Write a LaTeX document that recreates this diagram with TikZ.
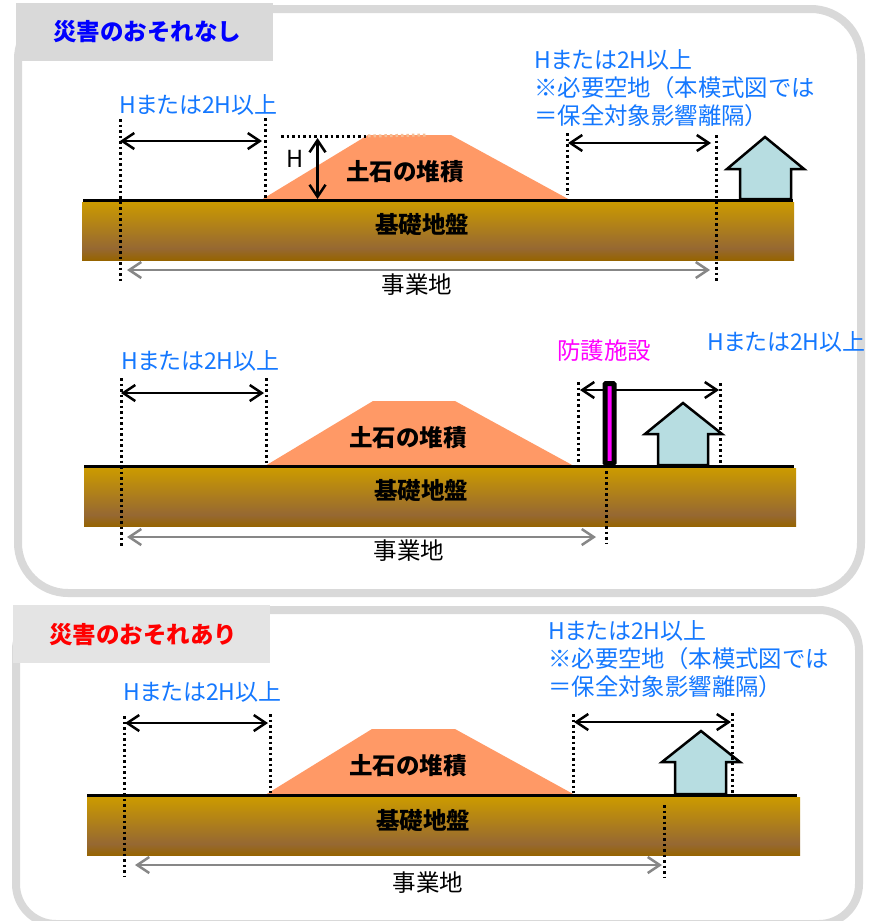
\documentclass[tikz,border=0pt]{standalone}
\usepackage{fontspec}
\setmainfont{Noto Sans CJK JP}
\newfontfamily\palt[RawFeature=+palt]{Noto Sans CJK JP}
\usetikzlibrary{arrows.meta}
\definecolor{groundtop}{RGB}{203,154,0}
\definecolor{groundmid}{RGB}{150,104,50}
\definecolor{groundend}{RGB}{150,100,0}
\pgfdeclareverticalshading{ground shade}{100bp}{color(0bp)=(groundend);color(25bp)=(groundend);color(35bp)=(groundmid);color(75bp)=(groundtop);color(100bp)=(groundtop)}
\newcommand{\hlabel}{{\palt\fontsize{23}{28}\selectfont Hまたは2H以上}}
\begin{document}
\begin{tikzpicture}[x=1pt,y=-1pt]
    \useasboundingbox (0, 0) rectangle (872, 921);
    % Node styles
    \tikzstyle{none}=[inner sep=0mm]
    \tikzstyle{frame}=[draw={rgb,255: red,217; green,217; blue,217}, line width=8pt, fill=white, shape=rectangle, inner sep=0mm]
    \tikzstyle{tab}=[shape=rectangle, inner sep=0mm, minimum width=257pt, minimum height=58pt]
    \tikzstyle{ground box}=[shading=ground shade, shape=rectangle, inner sep=0mm, minimum width=712pt, minimum height=58pt]
    \tikzstyle{title}=[inner sep=0mm, font=\bfseries\fontsize{23.5}{28}\selectfont]
    \tikzstyle{bold label}=[inner sep=0mm, font=\bfseries\fontsize{23.5}{28}\selectfont]
    \tikzstyle{plain label}=[inner sep=0mm, font=\fontsize{23.5}{28}\selectfont]
    \tikzstyle{blue label}=[inner sep=0mm, anchor=west, align=left, text={rgb,255: red,20; green,120; blue,255}, font=\fontsize{23.4}{28}\selectfont]
    % Edge styles
    \tikzstyle{arrow}=[{Straight Barb[length=12pt,width=16pt]}-{Straight Barb[length=12pt,width=16pt]}, line width=2.5pt, black]
    \tikzstyle{gray arrow}=[style=arrow, draw={rgb,255: red,135; green,135; blue,135}]
    \tikzstyle{dots}=[line width=3pt, dash pattern=on 2.5pt off 3pt]
    \tikzstyle{surface}=[line width=3pt]
    % Shape styles
    \tikzstyle{soil}=[fill={rgb,255: red,255; green,153; blue,102}]
    \tikzstyle{house}=[fill={rgb,255: red,183; green,221; blue,225}, draw=black, line width=2.5pt, miter limit=10]

    % frames and tabs
    \node [style=frame, rounded corners=50pt, minimum width=843pt, minimum height=584pt] (0) at (439.5, 301) {};
    \node [style=frame, rounded corners=40pt, minimum width=843pt, minimum height=314pt] (1) at (437.5, 767) {};
    \node [style=tab, fill={rgb,255: red,217; green,217; blue,217}] (2) at (144, 32) {};
    \node [style=tab, fill={rgb,255: red,228; green,228; blue,228}] (3) at (141.5, 634) {};
    \node [style=title, text={rgb,255: red,0; green,0; blue,255}] (4) at (147, 32) {災害のおそれなし};
    \node [style=title, text={rgb,255: red,255; green,0; blue,0}] (5) at (143, 635) {災害のおそれあり};

    % upper section
    \node [style=ground box] (10) at (438, 231) {};
    \fill [style=soil] (261, 200) -- (368, 135) -- (451, 135) -- (570, 200) -- cycle;
    \draw [style=house] (740, 199) -- (740, 169) -- (727, 169) -- (765, 137) -- (804, 169) -- (791, 169) -- (791, 199) -- cycle;
    \node [style=none] (11) at (83, 200.5) {};
    \node [style=none] (12) at (793, 200.5) {};
    \node [style=none] (13) at (120, 119) {};
    \node [style=none] (14) at (120, 281) {};
    \node [style=none] (15) at (265.5, 118) {};
    \node [style=none] (16) at (265.5, 198) {};
    \node [style=none] (17) at (567.5, 133) {};
    \node [style=none] (18) at (567.5, 194) {};
    \node [style=none] (19) at (716, 135) {};
    \node [style=none] (20) at (716, 281) {};
    \node [style=none] (21) at (281, 136) {};
    \node [style=none] (22) at (368, 136) {};
    \node [style=none] (23) at (120, 141) {};
    \node [style=none] (24) at (262, 141) {};
    \node [style=none] (25) at (568, 143) {};
    \node [style=none] (26) at (711, 143) {};
    \node [style=none] (27) at (317.5, 138) {};
    \node [style=none] (28) at (317.5, 199) {};
    \node [style=none] (29) at (127, 270) {};
    \node [style=none] (30) at (710, 270) {};
    \node [style=none] (37) at (426, 135) {};
    \node [style=blue label] (31) at (119, 105) {\hlabel};
    \node [style=blue label] (32) at (534, 88) {\hlabel\\※必要空地（本模式図では\\＝保全対象影響離隔）};
    \node [style=plain label] (33) at (295, 159) {H};
    \node [style=bold label] (34) at (405, 172) {土石の堆積};
    \node [style=bold label] (35) at (422, 225) {基礎地盤};
    \node [style=plain label] (36) at (417, 285) {事業地};

    \draw [style=surface] (11.center) to (12.center);
    \draw [style=dots] (13.center) to (14.center);
    \draw [style=dots] (15.center) to (16.center);
    \draw [style=dots] (17.center) to (18.center);
    \draw [style=dots] (19.center) to (20.center);
    \draw [style=dots] (21.center) to (22.center);
    \draw [style=dots, draw={rgb,255: red,245; green,190; blue,150}] (22.center) to (37.center);
    \draw [style=arrow] (23.center) to (24.center);
    \draw [style=arrow] (25.center) to (26.center);
    \draw [style=arrow] (27.center) to (28.center);
    \draw [style=gray arrow] (29.center) to (30.center);

    % middle section
    \node [style=ground box] (40) at (440, 497.5) {};
    \fill [style=soil] (265, 466) -- (373, 401) -- (455, 401) -- (574, 466) -- cycle;
    \draw [style=house] (658, 465) -- (658, 434) -- (645, 434) -- (683, 403) -- (722, 434) -- (708, 434) -- (708, 465) -- cycle;
    \node [style=none] (41) at (84, 466.5) {};
    \node [style=none] (42) at (794, 466.5) {};
    \node [style=none] (43) at (121, 378) {};
    \node [style=none] (44) at (121, 548) {};
    \node [style=none] (45) at (266, 378) {};
    \node [style=none] (46) at (266, 465) {};
    \node [style=none] (47) at (578, 382) {};
    \node [style=none] (48) at (578, 464) {};
    \node [style=none] (49) at (720, 383) {};
    \node [style=none] (50) at (720, 465) {};
    \node [style=none] (51) at (606.5, 471) {};
    \node [style=none] (52) at (606.5, 543) {};
    \node [style=none] (53) at (121, 393) {};
    \node [style=none] (54) at (264, 393) {};
    \node [style=none] (55) at (580, 390) {};
    \node [style=none] (56) at (719, 390) {};
    \node [style=none] (57) at (127, 537) {};
    \node [style=none] (58) at (596, 537) {};
    \node [style=blue label] (59) at (121, 361) {\hlabel};
    \node [style=blue label] (60) at (707, 342) {\hlabel};
    \node [style=plain label, text={rgb,255: red,255; green,0; blue,255}] (61) at (604, 351) {防護施設};
    \node [style=bold label] (62) at (408, 438) {土石の堆積};
    \node [style=bold label] (63) at (421, 491) {基礎地盤};
    \node [style=plain label] (64) at (409, 551) {事業地};

    \draw [style=surface] (41.center) to (42.center);
    \draw [style=dots] (43.center) to (44.center);
    \draw [style=dots] (45.center) to (46.center);
    \draw [style=dots] (47.center) to (48.center);
    \draw [style=dots] (49.center) to (50.center);
    \draw [style=dots] (51.center) to (52.center);
    \draw [style=arrow] (53.center) to (54.center);
    \draw [style=arrow] (55.center) to (56.center);
    \draw [style=gray arrow] (57.center) to (58.center);
    \draw [line width=5pt, rounded corners=1pt, fill={rgb,255: red,255; green,0; blue,255}] (605, 383.5) rectangle (614, 463.5);

    % lower section
    \node [style=ground box, minimum width=713pt] (70) at (443.5, 826.5) {};
    \fill [style=soil] (265, 795) -- (372, 729) -- (455, 729) -- (575, 795) -- cycle;
    \draw [style=house] (675, 794) -- (675, 762) -- (662, 762) -- (701, 731) -- (740, 762) -- (726, 762) -- (726, 794) -- cycle;
    \node [style=none] (71) at (87, 795.5) {};
    \node [style=none] (72) at (797, 795.5) {};
    \node [style=none] (73) at (124.5, 716) {};
    \node [style=none] (74) at (124.5, 877) {};
    \node [style=none] (75) at (270, 714) {};
    \node [style=none] (76) at (270, 793) {};
    \node [style=none] (77) at (573.5, 714) {};
    \node [style=none] (78) at (573.5, 793) {};
    \node [style=none] (79) at (732.5, 713) {};
    \node [style=none] (80) at (732.5, 793) {};
    \node [style=none] (81) at (664, 805) {};
    \node [style=none] (82) at (664, 877) {};
    \node [style=none] (83) at (125, 723) {};
    \node [style=none] (84) at (268, 723) {};
    \node [style=none] (85) at (574, 722) {};
    \node [style=none] (86) at (731, 722) {};
    \node [style=none] (87) at (135, 865) {};
    \node [style=none] (88) at (662, 865) {};
    \node [style=blue label] (89) at (123, 692) {\hlabel};
    \node [style=blue label] (90) at (548, 659) {\hlabel\\※必要空地（本模式図では\\＝保全対象影響離隔）};
    \node [style=bold label] (91) at (408, 766) {土石の堆積};
    \node [style=bold label] (92) at (423, 821) {基礎地盤};
    \node [style=plain label] (93) at (428, 883) {事業地};

    \draw [style=surface] (71.center) to (72.center);
    \draw [style=dots] (73.center) to (74.center);
    \draw [style=dots] (75.center) to (76.center);
    \draw [style=dots] (77.center) to (78.center);
    \draw [style=dots] (79.center) to (80.center);
    \draw [style=dots] (81.center) to (82.center);
    \draw [style=arrow] (83.center) to (84.center);
    \draw [style=arrow] (85.center) to (86.center);
    \draw [style=gray arrow] (87.center) to (88.center);
\end{tikzpicture}
\end{document}
